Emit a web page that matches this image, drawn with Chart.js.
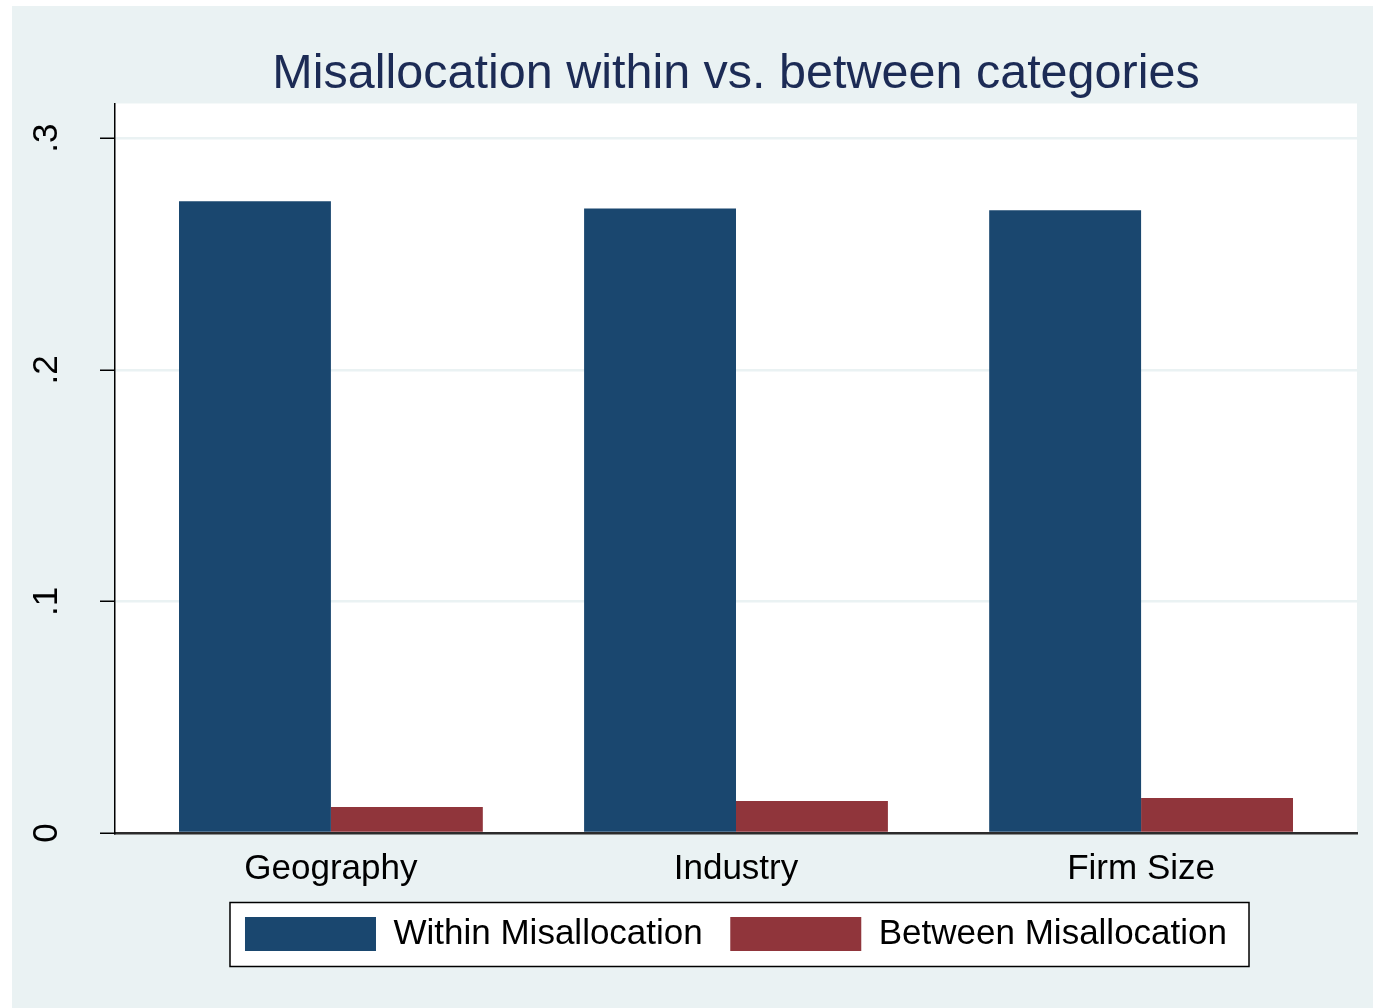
<!DOCTYPE html>
<html>
<head>
<meta charset="utf-8">
<script src="https://cdn.jsdelivr.net/npm/chart.js@4.4.1/dist/chart.umd.min.js"></script>
<style>
  html, body { margin: 0; padding: 0; background: #fff; }
  #wrap { position: absolute; left: 12px; top: 6px; width: 1361px; height: 1002px; }
</style>
</head>
<body>
<div id="wrap"><canvas id="chart"></canvas></div>
<script>
const categories = ["Geography", "Industry", "Firm Size"];
const withinValues = [0.2728, 0.2697, 0.2689];
const betweenValues = [0.0112, 0.0138, 0.0151];
const seriesNames = ["Within Misallocation", "Between Misallocation"];
const yTickValues = [0, 0.1, 0.2, 0.3];

const stataBg = "#eaf2f3";
const navy = "#1a476f";
const maroon = "#90353b";

Chart.defaults.font.family = "'Liberation Sans', Arial, sans-serif";
Chart.defaults.color = "#000";

// stata-style backdrop: light outer region, white plot region, boxed legend
const backdrop = {
  id: "backdrop",
  beforeDraw(chart) {
    const { ctx, chartArea: a, width, height } = chart;
    ctx.save();
    ctx.fillStyle = stataBg;
    ctx.fillRect(0, 0, width, height);
    ctx.fillStyle = "#fff";
    ctx.fillRect(a.left, a.top, a.right - a.left, a.bottom - a.top);
    const boxes = chart.legend && chart.legend.legendHitBoxes;
    if (boxes && boxes.length) {
      const l = Math.min(...boxes.map((b) => b.left)) - 15;
      const r = Math.max(...boxes.map((b) => b.left + b.width)) + 22;
      const t = boxes[0].top - 14;
      const b = boxes[0].top + boxes[0].height + 15;
      ctx.fillRect(l, t, r - l, b - t);
      ctx.strokeStyle = "#000";
      ctx.lineWidth = 1.5;
      ctx.strokeRect(l, t, r - l, b - t);
    }
    ctx.restore();
  },
};

const toPoints = (vals) => vals.map((v, i) => ({ x: i, y: v }));

new Chart(document.getElementById("chart"), {
  type: "bar",
  data: {
    datasets: [
      {
        label: seriesNames[0],
        data: toPoints(withinValues),
        backgroundColor: navy,
        borderWidth: 0,
      },
      {
        label: seriesNames[1],
        data: toPoints(betweenValues),
        backgroundColor: maroon,
        borderWidth: 0,
      },
    ],
  },
  options: {
    responsive: true,
    maintainAspectRatio: false,
    animation: false,
    categoryPercentage: 0.75,
    barPercentage: 1,
    layout: { padding: { left: 0, right: 16, top: 0, bottom: 46.5 } },
    scales: {
      x: {
        type: "linear",
        position: "bottom",
        offset: false,
        min: -0.533,
        max: 2.533,
        afterBuildTicks: (scale) => {
          scale.ticks = categories.map((c, i) => ({ value: i }));
        },
        afterFit: (scale) => {
          scale.height = 56;
        },
        grid: { display: false, drawTicks: false, offset: false },
        border: { display: true, color: "#2b2b2b", width: 2.5 },
        ticks: {
          autoSkip: false,
          maxRotation: 0,
          padding: 19,
          font: { size: 35, lineHeight: 1 },
          callback: (v) => categories[v],
        },
      },
      y: {
        min: 0,
        max: 0.315,
        afterBuildTicks: (scale) => {
          scale.ticks = yTickValues.map((v) => ({ value: v }));
        },
        afterFit: (scale) => {
          scale.width = 103;
        },
        grid: {
          color: stataBg,
          lineWidth: 2.5,
          drawTicks: true,
          tickLength: 15,
          tickColor: "#000",
          tickWidth: 1.5,
        },
        border: { display: true, color: "#000", width: 1.5 },
        ticks: {
          minRotation: 90,
          maxRotation: 90,
          crossAlign: "center",
          padding: 38,
          font: { size: 35 },
          callback: (v) => (v === 0 ? "0" : String(v).replace(/^0/, "")),
        },
      },
    },
    plugins: {
      title: {
        display: true,
        fullSize: false,
        text: "Misallocation within vs. between categories",
        color: "#1c2b55",
        font: { size: 48.5, weight: "normal", lineHeight: 1 },
        padding: { top: 44, bottom: 5 },
      },
      legend: {
        position: "bottom",
        fullSize: false,
        labels: {
          boxWidth: 131,
          boxHeight: 34,
          padding: 27.5,
          font: { size: 35 },
          color: "#000",
        },
      },
      tooltip: { enabled: false },
    },
  },
  plugins: [backdrop],
});
</script>
</body>
</html>
